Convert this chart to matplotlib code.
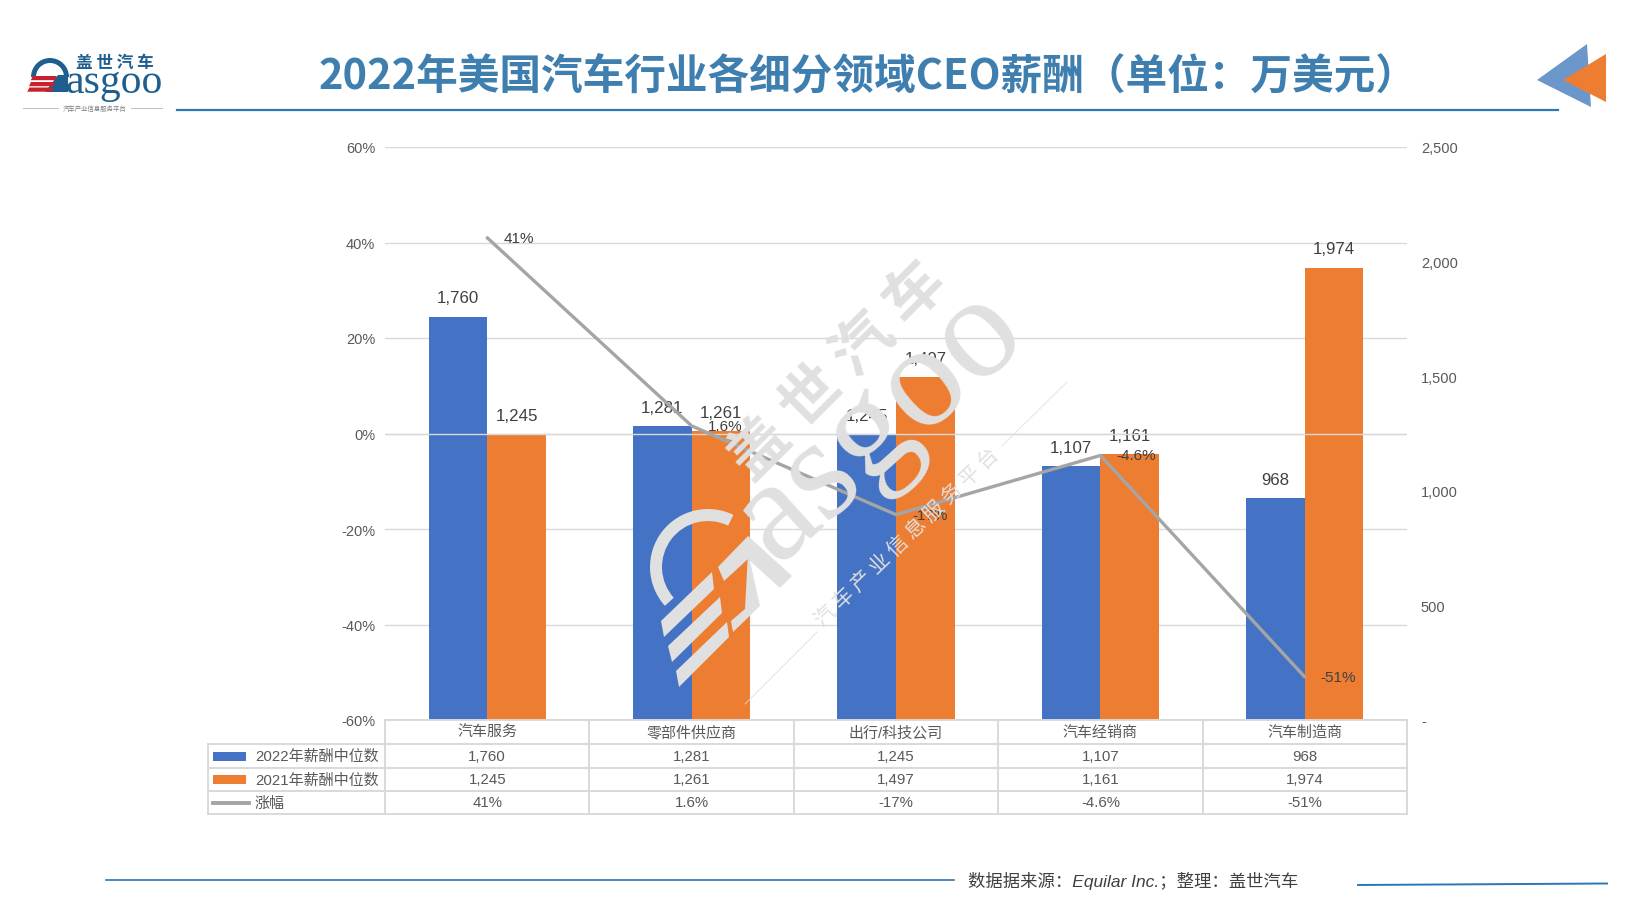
import matplotlib
matplotlib.use("Agg")
import matplotlib.pyplot as plt
from matplotlib.patches import Polygon, Rectangle, Wedge

plt.rcParams["font.family"] = ["Liberation Sans", "Noto Sans CJK SC", "DejaVu Sans"]

categories = ["汽车服务", "零部件供应商", "出行/科技公司", "汽车经销商", "汽车制造商"]
pay_2022 = [1760, 1281, 1245, 1107, 968]
pay_2021 = [1245, 1261, 1497, 1161, 1974]
growth = [41, 1.6, -17, -4.6, -51]
growth_labels = ["41%", "1.6%", "-17%", "-4.6%", "-51%"]
pct_ticks = [-60, -40, -20, 0, 20, 40, 60]
pay_ticks = [0, 500, 1000, 1500, 2000, 2500]

BLUE = "#4472C4"
ORANGE = "#ED7D31"
GRAY = "#A5A5A5"
GRID = "#D9D9D9"
TICK = "#595959"
LABEL = "#404040"
WM = "#E0E0E0"
LOGO = "#1F5F8F"
W, H = 1640, 912
LEFT, RIGHT, TOP, BOTTOM = 385, 1407, 148, 721

fig = plt.figure(figsize=(W / 100, H / 100), dpi=100, facecolor="white")

# bars sit on the right axis, line on the left one
ax_bar = fig.add_axes([LEFT / W, 1 - BOTTOM / H, (RIGHT - LEFT) / W, (BOTTOM - TOP) / H])
ax_pct = ax_bar.twinx()
ax_bar.set_zorder(1)
ax_pct.set_zorder(2)
ax_pct.patch.set_visible(False)

x = list(range(len(categories)))
bw = 0.287
ax_bar.set_xlim(-0.5, 4.5)
ax_bar.set_ylim(0, 2500)
ax_pct.set_ylim(-60, 60)

for t in pct_ticks:
    ax_bar.plot([0, 1], [t, t], transform=ax_pct.get_yaxis_transform(), color=GRID, lw=1.0, zorder=0)

ax_bar.bar([i - bw / 2 for i in x], pay_2022, bw, color=BLUE, zorder=2)
ax_bar.bar([i + bw / 2 for i in x], pay_2021, bw, color=ORANGE, zorder=2)

for i in x:
    ax_bar.annotate(f"{pay_2022[i]:,}", (i - bw / 2, pay_2022[i]), xytext=(0, 13.5), textcoords="offset points",
                    ha="center", va="center", fontsize=12.2, color=LABEL, zorder=3)
    ax_bar.annotate(f"{pay_2021[i]:,}", (i + bw / 2, pay_2021[i]), xytext=(0, 13.5), textcoords="offset points",
                    ha="center", va="center", fontsize=12.2, color=LABEL, zorder=3)

ax_pct.axhline(0, color=GRID, lw=1.0, zorder=1)
ax_pct.plot(x, growth, color=GRAY, lw=2.4, zorder=3, solid_capstyle="round")
for i in x:
    ax_pct.annotate(growth_labels[i], (i, growth[i]), xytext=(11.5, 0), textcoords="offset points",
                    ha="left", va="center", fontsize=11, color=LABEL, zorder=4)

for spine in list(ax_bar.spines.values()) + list(ax_pct.spines.values()):
    spine.set_visible(False)
ax_bar.set_xticks([])
ax_bar.yaxis.tick_right()
ax_bar.set_yticks(pay_ticks, [f"{v:,}" if v else "-" for v in pay_ticks])
ax_bar.tick_params(axis="y", length=0, pad=10, labelsize=10.5, labelcolor=TICK)
ax_pct.yaxis.tick_left()
ax_pct.set_yticks(pct_ticks, [f"{v}%" for v in pct_ticks])
ax_pct.tick_params(axis="y", length=0, pad=7, labelsize=10.5, labelcolor=TICK)

# overlay in pixel coords for slide furniture, table, watermark
ov = fig.add_axes([0, 0, 1, 1], zorder=10)
ov.set_xlim(0, W)
ov.set_ylim(H, 0)
ov.axis("off")
ov.patch.set_visible(False)

# title
ov.text(868, 76, "2022年美国汽车行业各细分领域CEO薪酬（单位：万美元）", ha="center", va="center",
        fontsize=30, fontweight="bold", color="#3F7FB0", family=["Noto Sans CJK SC"])
ov.plot([177, 1558], [110.7, 110.7], color="#2E75B6", lw=1.6)
ov.add_patch(Polygon([(1537, 81), (1587, 45), (1591, 108)], color="#6C97CB", lw=0))
ov.add_patch(Polygon([(1563, 81), (1606, 55), (1606, 103)], color=ORANGE, lw=0))

# logo
ov.add_patch(Wedge((50, 78), 19, 180, 360, width=5, color=LOGO, lw=0))
ov.add_patch(Polygon([(45, 93), (58, 76), (68, 76), (68, 93)], color=LOGO, lw=0))
for y0 in (77, 83, 88.5):
    ov.add_patch(Polygon([(28 + (93 - y0) * 0.3, y0), (52 + (93 - y0) * 0.3, y0),
                          (50 + (93 - y0) * 0.3, y0 + 4.2), (26 + (93 - y0) * 0.3, y0 + 4.2)],
                         color="#C8202C", lw=0))
ov.text(66, 93, "asgoo", ha="left", va="baseline", fontsize=30, color=LOGO, family=["Liberation Serif"])
ov.text(115, 63, "盖 世 汽 车", ha="center", va="center", fontsize=12, fontweight="bold", color=LOGO,
        family=["Noto Sans CJK SC"])
ov.plot([23, 58], [109, 109], color="#BFBFBF", lw=0.7)
ov.plot([131, 162], [109, 109], color="#BFBFBF", lw=0.7)
ov.text(95, 109, "汽车产业信息服务平台", ha="center", va="center", fontsize=4.6, color="#7F7F7F",
        family=["Noto Sans CJK SC"])

# data table under the plot
col_w = (RIGHT - LEFT) / 5
row_y = [721, 745, 769, 792, 815]
TBL_L = 208
for k, y in enumerate(row_y):
    ov.plot([LEFT if k == 0 else TBL_L, RIGHT], [y, y], color=GRID, lw=1.4, solid_capstyle="projecting")
ov.plot([TBL_L, TBL_L], [row_y[1], row_y[4]], color=GRID, lw=1.4)
for c in range(6):
    ov.plot([LEFT + c * col_w] * 2, [row_y[0], row_y[4]], color=GRID, lw=1.4)

rows = [[f"{v:,}" for v in pay_2022], [f"{v:,}" for v in pay_2021], growth_labels]
names = ["2022年薪酬中位数", "2021年薪酬中位数", "涨幅"]
for c in x:
    cx = LEFT + (c + 0.5) * col_w
    ov.text(cx, 733, categories[c], ha="center", va="center", fontsize=10.8, color=TICK)
    for r, row in enumerate(rows):
        ov.text(cx, (row_y[r + 1] + row_y[r + 2]) / 2, row[c], ha="center", va="center", fontsize=10.8, color=TICK)
for r, name in enumerate(names):
    ov.text(255, (row_y[r + 1] + row_y[r + 2]) / 2, name, ha="left", va="center", fontsize=10.8, color=TICK)
ov.add_patch(Rectangle((213, 753), 33, 9, color=BLUE, lw=0))
ov.add_patch(Rectangle((213, 776), 33, 9, color=ORANGE, lw=0))
ov.plot([213, 249], [804, 804], color=GRAY, lw=2.8)

# footer
ov.plot([106, 954], [881, 881], color="#2E75B6", lw=1.2)
ov.plot([1358, 1607], [886, 884.5], color="#2E75B6", lw=1.4)
ov.text(968, 881, "数据据来源：Equilar Inc.；整理：盖世汽车", ha="left", va="center", fontsize=12.5,
        style="italic", color=LABEL)

# watermark
ov.text(838, 372, "盖 世 汽 车", ha="center", va="center", rotation=45, rotation_mode="anchor", fontsize=43,
        fontweight="bold", color=WM, family=["Noto Sans CJK SC"])
ov.text(880, 425, "asgoo", ha="center", va="center", rotation=42, rotation_mode="anchor", fontsize=105,
        color=WM, family=["Liberation Serif"])
ov.text(907, 538, "汽 车 产 业 信 息 服 务 平 台", ha="center", va="center", rotation=44, rotation_mode="anchor",
        fontsize=14.8, color=WM, family=["Noto Sans CJK SC"])
ov.plot([745, 817], [705, 633], color=WM, lw=0.6)
ov.plot([1002, 1067], [447, 383], color=WM, lw=0.6)
ov.add_patch(Wedge((708, 568), 58, 138, 296, width=12, color=WM, lw=0))
ov.add_patch(Polygon([(661, 622), (712, 573), (714, 590), (664, 638)], color=WM, lw=0))
ov.add_patch(Polygon([(668, 647), (720, 598), (722, 614), (672, 663)], color=WM, lw=0))
ov.add_patch(Polygon([(676, 672), (727, 623), (729, 638), (679, 688)], color=WM, lw=0))
ov.add_patch(Polygon([(718, 568), (748, 537), (792, 577), (780, 589), (748, 560), (724, 582)], color=WM, lw=0))
ov.add_patch(Polygon([(748, 553), (760, 607), (733, 633), (731, 622), (745, 610)], color=WM, lw=0))

fig.savefig("out.png", dpi=100)
plt.close(fig)
